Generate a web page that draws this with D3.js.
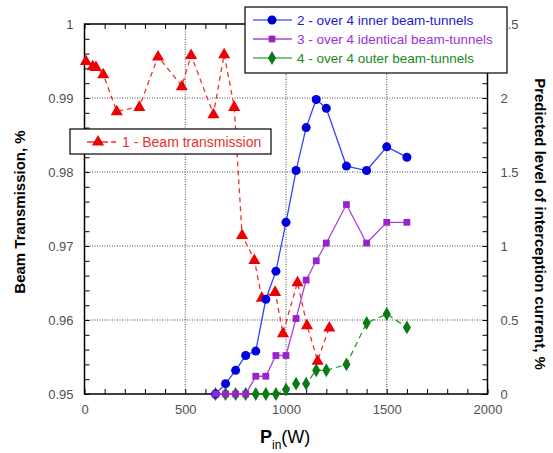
<!DOCTYPE html>
<html>
<head>
<meta charset="utf-8">
<script src="https://cdn.jsdelivr.net/npm/d3@7"></script>
<style>
  body { margin: 0; background: #fff; }
  svg { font-family: "Liberation Sans", Arial, sans-serif; }
  .tick text { fill: #505050; font-size: 13px; }
  .tick line { stroke: #000; }
  .grid line { stroke: #444; stroke-dasharray: 1,1.5; }
</style>
</head>
<body>
<div id="chart"></div>
<script>
(function () {
  // series 1 : beam transmission (left axis)
  const powerBeam = [7, 41, 57, 93, 160, 272, 365, 483, 529, 640, 693, 743, 782, 843, 880, 946, 985, 1057, 1104, 1157, 1215];
  const transmission = [0.9950, 0.9943, 0.9942, 0.9932, 0.9882, 0.9888, 0.9956, 0.9916, 0.9958, 0.9878, 0.9959, 0.9888,
    0.9715, 0.9681, 0.9630, 0.9638, 0.9582, 0.9651, 0.9593, 0.9545, 0.9590];

  // series 2-4 : interception current (right axis)
  const powerTunnels = [650, 700, 750, 800, 850, 900, 950, 1000, 1050, 1100, 1150, 1200, 1300, 1400, 1500, 1600];
  const innerTunnels = [0, 0.07, 0.16, 0.26, 0.29, 0.64, 0.83, 1.16, 1.51, 1.80, 1.99, 1.93, 1.54, 1.51, 1.67, 1.60];
  const identicalTunnels = [0, 0, 0, 0, 0.12, 0.12, 0.26, 0.26, 0.51, 0.77, 0.90, 1.02, 1.28, 1.02, 1.16, 1.16];
  const outerTunnels = [0, 0, 0, 0, 0, 0, 0, 0.03, 0.07, 0.07, 0.16, 0.16, 0.20, 0.48, 0.54, 0.45];

  const xMajor = [0, 500, 1000, 1500, 2000];
  const yLeftMajor = [0.95, 0.96, 0.97, 0.98, 0.99, 1];
  const yRightMajor = [0, 0.5, 1, 1.5, 2, 2.5];

  const W = 553, H = 453;
  const plot = { left: 84.5, right: 487.5, top: 24, bottom: 394 };

  const svg = d3.select("#chart").append("svg")
    .attr("width", W).attr("height", H);

  const x = d3.scaleLinear().domain([0, 2000]).range([plot.left, plot.right]);
  const yL = d3.scaleLinear().domain([0.95, 1]).range([plot.bottom, plot.top]);
  const yR = d3.scaleLinear().domain([0, 2.5]).range([plot.bottom, plot.top]);

  // dotted grid at inner major ticks
  const grid = svg.append("g").attr("class", "grid");
  grid.selectAll("line.gx").data([500, 1000, 1500]).join("line")
    .attr("x1", d => x(d)).attr("x2", d => x(d))
    .attr("y1", plot.top).attr("y2", plot.bottom);
  grid.selectAll("line.gy").data([0.96, 0.97, 0.98, 0.99]).join("line")
    .attr("x1", plot.left).attr("x2", plot.right)
    .attr("y1", d => yL(d)).attr("y2", d => yL(d));

  // minor ticks (inward)
  const minorX = d3.range(0, 2001, 100);
  const minorY = d3.range(0, 26).map(i => 0.95 + i * 0.002);
  const minorR = d3.range(0, 26).map(i => i * 0.1);
  svg.append("g").attr("transform", `translate(0,${plot.bottom})`)
    .call(d3.axisBottom(x).tickValues(minorX).tickSize(-5).tickFormat(""));
  svg.append("g").attr("transform", `translate(0,${plot.top})`)
    .call(d3.axisTop(x).tickValues(minorX).tickSize(-5).tickFormat(""));
  svg.append("g").attr("transform", `translate(${plot.left},0)`)
    .call(d3.axisLeft(yL).tickValues(minorY).tickSize(-5).tickFormat(""));
  svg.append("g").attr("transform", `translate(${plot.right},0)`)
    .call(d3.axisRight(yR).tickValues(minorR).tickSize(-5).tickFormat(""));

  // tick labels
  svg.append("g").attr("transform", `translate(0,${plot.bottom})`)
    .call(d3.axisBottom(x).tickValues(xMajor).tickSize(0).tickPadding(11).tickFormat(d3.format("d")));
  svg.append("g").attr("transform", `translate(${plot.left},0)`)
    .call(d3.axisLeft(yL).tickValues(yLeftMajor).tickSize(0).tickPadding(11).tickFormat(d => d === 1 ? "1" : d3.format(".2f")(d)));
  svg.append("g").attr("transform", `translate(${plot.right},0)`)
    .call(d3.axisRight(yR).tickValues(yRightMajor).tickSize(0).tickPadding(13).tickFormat(d => d === 0 ? "0" : d3.format("")(d)));
  svg.selectAll(".domain").remove();

  // frame
  svg.append("rect")
    .attr("x", plot.left).attr("y", plot.top)
    .attr("width", plot.right - plot.left).attr("height", plot.bottom - plot.top)
    .attr("fill", "none").attr("stroke", "#000").attr("stroke-width", 1.5);

  const tri = d3.symbol().type(d3.symbolTriangle).size(64);
  const circ = d3.symbol().type(d3.symbolCircle).size(64);
  const sq = d3.symbol().type(d3.symbolSquare).size(46);
  const dia = d3.symbol().type(d3.symbolDiamond).size(56);

  function drawSeries(xs, ys, yScale, opt) {
    const pts = xs.map((p, i) => [x(p), yScale(ys[i])]);
    svg.append("path")
      .attr("d", d3.line()(pts))
      .attr("fill", "none")
      .attr("stroke", opt.line)
      .attr("stroke-width", 1.3)
      .attr("stroke-dasharray", opt.dash || null);
    svg.append("g").selectAll("path").data(pts).join("path")
      .attr("transform", d => `translate(${d[0]},${d[1] + (opt.dy || 0)})`)
      .attr("d", opt.symbol)
      .attr("fill", opt.fill);
  }

  drawSeries(powerBeam, transmission, yL, { line: "#f03030", fill: "#ee0000", symbol: tri, dash: "5,4", dy: 0.5 });
  drawSeries(powerTunnels, outerTunnels, yR, { line: "#2a9a2a", fill: "#0a7a14", symbol: dia, dash: "6,4" });
  drawSeries(powerTunnels, innerTunnels, yR, { line: "#3344ff", fill: "#0000dd", symbol: circ });
  drawSeries(powerTunnels, identicalTunnels, yR, { line: "#b040e0", fill: "#9a22cc", symbol: sq });

  // legend, top right
  const leg = svg.append("g");
  leg.append("rect").attr("x", 245).attr("y", 7).attr("width", 262).attr("height", 66)
    .attr("fill", "#fff").attr("stroke", "#000").attr("stroke-width", 1.2);
  const legItems = [
    { text: "2 - over 4 inner beam-tunnels", line: "#5566ff", fill: "#0000dd", color: "#1a1ad8", symbol: circ },
    { text: "3 - over 4 identical beam-tunnels", line: "#b040e0", fill: "#9a22cc", color: "#a030d8", symbol: sq },
    { text: "4 - over 4 outer beam-tunnels", line: "#50b050", fill: "#0a7a14", color: "#1a8a1a", symbol: dia }
  ];
  legItems.forEach((d, i) => {
    const yy = 20 + i * 19;
    leg.append("line").attr("x1", 253).attr("x2", 292).attr("y1", yy).attr("y2", yy)
      .attr("stroke", d.line).attr("stroke-width", 1.3);
    leg.append("path").attr("transform", `translate(272,${yy})`).attr("d", d.symbol).attr("fill", d.fill);
    leg.append("text").attr("x", 297).attr("y", yy).attr("dy", "0.35em")
      .attr("font-size", 13.5).attr("fill", d.color).text(d.text);
  });

  // legend, beam transmission
  const leg1 = svg.append("g");
  leg1.append("rect").attr("x", 70).attr("y", 129).attr("width", 201).attr("height", 25)
    .attr("fill", "#fff").attr("stroke", "#000").attr("stroke-width", 1.2);
  leg1.append("line").attr("x1", 87).attr("x2", 116).attr("y1", 142).attr("y2", 142)
    .attr("stroke", "#f03030").attr("stroke-width", 1.3).attr("stroke-dasharray", "9,3");
  leg1.append("path").attr("transform", "translate(98,142)").attr("d", tri).attr("fill", "#ee0000");
  leg1.append("text").attr("x", 122).attr("y", 142).attr("dy", "0.35em")
    .attr("font-size", 14).attr("fill", "#e83030").text("1 - Beam transmission");

  // axis titles
  svg.append("text")
    .attr("transform", "translate(25,212) rotate(-90)")
    .attr("text-anchor", "middle").attr("font-size", 15).attr("font-weight", "bold")
    .text("Beam Transmission, %");
  svg.append("text")
    .attr("transform", "translate(535,224) rotate(90)")
    .attr("text-anchor", "middle").attr("font-size", 15).attr("font-weight", "bold")
    .text("Predicted level of interception current, %");
  const xt = svg.append("text").attr("x", 260).attr("y", 443).attr("font-size", 18);
  xt.append("tspan").attr("font-weight", "bold").text("P");
  xt.append("tspan").attr("font-size", 12).attr("dy", 6).text("in");
  xt.append("tspan").attr("dy", -6).attr("font-size", 18).text("(W)");
})();
</script>
</body>
</html>
